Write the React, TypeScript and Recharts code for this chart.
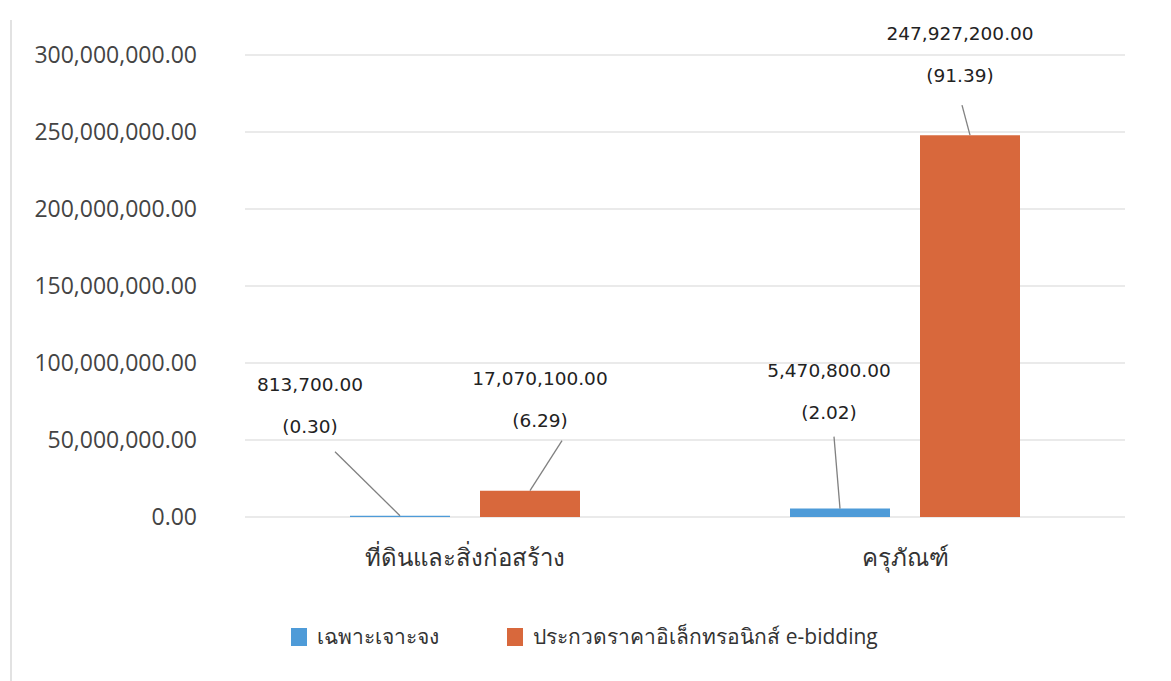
import { BarChart, Bar, XAxis, YAxis, CartesianGrid, Legend, LabelList } from "recharts";

const categories = ["ที่ดินและสิ่งก่อสร้าง", "ครุภัณฑ์"];
const specificValues = [813700, 5470800];
const specificPercents = [0.3, 2.02];
const biddingValues = [17070100, 247927200];
const biddingPercents = [6.29, 91.39];
const yTicks = [0, 50000000, 100000000, 150000000, 200000000, 250000000, 300000000];

const seriesNames = ["เฉพาะเจาะจง", "ประกวดราคาอิเล็กทรอนิกส์ e-bidding"];

const COLORS = {
  specific: "#4e9bd8", // blue
  bidding: "#d8683c", // orange
};

const data = categories.map((name, i) => ({
  name,
  specific: specificValues[i],
  specificPct: specificPercents[i],
  bidding: biddingValues[i],
  biddingPct: biddingPercents[i],
}));

const fmt = (v: number) =>
  v.toLocaleString("en-US", { minimumFractionDigits: 2, maximumFractionDigits: 2 });

// where each label sits relative to the top-centre of its bar
const LABEL_POS: Record<string, { dx: number; dy: number; lx: number; ly: number }[]> = {
  specific: [
    { dx: -90, dy: -125, lx: -65, ly: -64 },
    { dx: -11, dy: -132, lx: -6, ly: -72 },
  ],
  bidding: [
    { dx: 10, dy: -106, lx: 32, ly: -50 },
    { dx: -10, dy: -95, lx: -8, ly: -30 },
  ],
};

const makeLabel = (key: "specific" | "bidding", pcts: number[]) => (props: any) => {
  const { x, y, width, index, value } = props;
  const pos = LABEL_POS[key][index];
  const cx = Number(x) + Number(width) / 2;
  const top = Number(y);
  const tx = cx + pos.dx;
  return (
    <g>
      <line x1={cx + pos.lx} y1={top + pos.ly} x2={cx} y2={top} stroke="#808080" strokeWidth={1.3} />
      <text x={tx} y={top + pos.dy} textAnchor="middle" fontSize={18.5} fill="#222" fontFamily="DejaVu Sans">
        {fmt(Number(value))}
      </text>
      <text x={tx} y={top + pos.dy + 42} textAnchor="middle" fontSize={18.5} fill="#222" fontFamily="DejaVu Sans">
        ({pcts[index].toFixed(2)})
      </text>
    </g>
  );
};

const LegendContent = () => (
  <div style={{ display: "flex", justifyContent: "center", alignItems: "center", gap: 68, marginLeft: 44 }}>
    {seriesNames.map((n, i) => (
      <div key={n} style={{ display: "flex", alignItems: "center", gap: 10 }}>
        <span
          style={{
            display: "inline-block",
            width: 16,
            height: 18,
            background: i === 0 ? COLORS.specific : COLORS.bidding,
          }}
        />
        <span style={{ fontSize: 21, color: "#333" }}>{n}</span>
      </div>
    ))}
  </div>
);

export default function App() {
  return (
    <div
      style={{
        position: "absolute",
        left: 0,
        top: 0,
        width: 1171,
        height: 681,
        background: "#fff",
        fontFamily: "'Open Sans', 'Noto Sans', sans-serif",
      }}
    >
      <div style={{ position: "absolute", left: 10, top: 20, width: 2, height: 661, background: "#e2e2e2" }} />
      <BarChart
        width={1171}
        height={681}
        data={data}
        margin={{ top: 55, right: 46, left: 0, bottom: 41 }}
        barSize={100}
        barGap={30}
      >
        <CartesianGrid vertical={false} stroke="#e3e3e3" strokeWidth={1.5} />
        <XAxis
          dataKey="name"
          axisLine={false}
          tickLine={false}
          tick={{ fontSize: 24, fill: "#333" }}
          tickMargin={26}
          height={90}
        />
        <YAxis
          width={245}
          domain={[0, 300000000]}
          ticks={yTicks}
          tickFormatter={fmt}
          axisLine={false}
          tickLine={false}
          tickMargin={42}
          tick={{ fontSize: 23, fill: "#444" }}
        />
        <Legend verticalAlign="bottom" content={LegendContent} wrapperStyle={{ bottom: 28 }} />
        <Bar dataKey="specific" fill={COLORS.specific} isAnimationActive={false}>
          <LabelList dataKey="specific" content={makeLabel("specific", specificPercents)} />
        </Bar>
        <Bar dataKey="bidding" fill={COLORS.bidding} isAnimationActive={false}>
          <LabelList dataKey="bidding" content={makeLabel("bidding", biddingPercents)} />
        </Bar>
      </BarChart>
    </div>
  );
}
